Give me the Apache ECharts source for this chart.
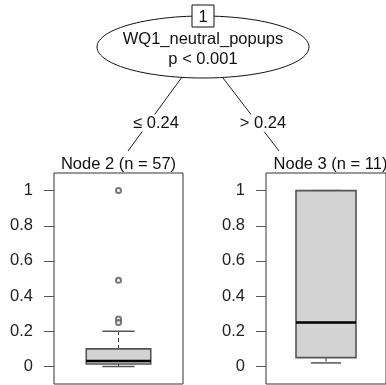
<!DOCTYPE html>
<html><head><meta charset="utf-8">
<script src="https://cdn.jsdelivr.net/npm/echarts@6/dist/echarts.min.js"></script>
<style>html,body{margin:0;padding:0;background:#fff}#c{width:386px;height:385px}</style>
</head><body><div id="c"></div>
<script>
// ---- data ----
const nodeTitles = ['Node 2 (n = 57)', 'Node 3 (n = 11)'];
const nodeCats = ['Node 2', 'Node 3'];
// [lower whisker, Q1, median, Q3, upper whisker]
const node2Box = [0, 0.014, 0.031, 0.1, 0.2];
const node3Box = [0.02, 0.05, 0.25, 1, 1];
const node2Outliers = [1.0, 0.49, 0.27, 0.25];
const node3Outliers = [];
const yTicks = [0, 0.2, 0.4, 0.6, 0.8, 1];
const rootId = '1';
const splitVar = 'WQ1_neutral_popups';
const pLabel = 'p < 0.001';
const edgeLabels = ['\u2264 0.24', '> 0.24'];

const FONT = 'Liberation Sans, Arial, sans-serif';
const FS = 16.5;

function renderBox(params, api) {
  const x = api.value(0);
  const bw = api.size([1, 0])[0] * 0.5;
  const pMin = api.coord([x, api.value(1)]);
  const pQ1 = api.coord([x, api.value(2)]);
  const pMed = api.coord([x, api.value(3)]);
  const pQ3 = api.coord([x, api.value(4)]);
  const pMax = api.coord([x, api.value(5)]);
  const cx = pMin[0];
  const gray = '#555';
  return {
    type: 'group',
    children: [
      {type: 'line', shape: {x1: cx, y1: pQ3[1], x2: cx, y2: pMax[1]}, style: {stroke: '#333', lineWidth: 1, lineDash: [4, 3]}},
      {type: 'line', shape: {x1: cx, y1: pQ1[1], x2: cx, y2: pMin[1]}, style: {stroke: '#333', lineWidth: 1, lineDash: [4, 3]}},
      {type: 'line', shape: {x1: cx - bw / 4, y1: pMax[1], x2: cx + bw / 4, y2: pMax[1]}, style: {stroke: gray, lineWidth: 1.5}},
      {type: 'line', shape: {x1: cx - bw / 4, y1: pMin[1], x2: cx + bw / 4, y2: pMin[1]}, style: {stroke: gray, lineWidth: 1.5}},
      {type: 'rect', shape: {x: cx - bw / 2, y: pQ3[1], width: bw, height: pQ1[1] - pQ3[1]}, style: {fill: '#d3d3d3', stroke: gray, lineWidth: 1.6}},
      {type: 'line', shape: {x1: cx - bw / 2, y1: pMed[1], x2: cx + bw / 2, y2: pMed[1]}, style: {stroke: '#000', lineWidth: 2.5}}
    ]
  };
}

function yAxisFor(gi) {
  return {
    gridIndex: gi, type: 'value', min: -0.1, max: 1.1,
    splitLine: {show: false},
    axisLine: {show: false},
    axisTick: {show: true, length: 10, customValues: yTicks, lineStyle: {color: '#555', width: 1}},
    axisLabel: {customValues: yTicks, margin: 21, fontFamily: FONT, fontSize: FS, color: '#222'}
  };
}
function xAxisFor(gi, cat) {
  return {gridIndex: gi, type: 'category', data: [cat], show: false};
}

const grids = [
  {left: 54, top: 173, width: 129, height: 211, show: true, borderColor: '#333', borderWidth: 1, backgroundColor: 'transparent'},
  {left: 266, top: 173, width: 129, height: 211, show: true, borderColor: '#333', borderWidth: 1, backgroundColor: 'transparent'}
];

// tree geometry (layout only)
const ecx = 203, ecy = 47, erx = 106, ery = 31;
const ellipsePts = [];
for (let i = 0; i < 120; i++) {
  const t = i / 120 * Math.PI * 2;
  ellipsePts.push([ecx + erx * Math.cos(t), ecy + ery * Math.sin(t)]);
}
function textEl(x, y, s, bg) {
  return {type: 'text', x: x, y: y, z: 10,
    style: {text: s, fontFamily: FONT, fontSize: FS, fill: '#111', align: 'center', verticalAlign: 'middle',
      backgroundColor: bg ? '#fff' : null, padding: bg ? [0, 2] : 0}};
}

const graphic = [
  {type: 'line', shape: {x1: 182, y1: 77, x2: 128, y2: 151}, style: {stroke: '#222', lineWidth: 1}},
  {type: 'line', shape: {x1: 223, y1: 78, x2: 279, y2: 151}, style: {stroke: '#222', lineWidth: 1}},
  {type: 'polygon', shape: {points: ellipsePts}, style: {fill: '#fff', stroke: '#111', lineWidth: 1}},
  {type: 'rect', shape: {x: 192, y: 5, width: 22, height: 22}, style: {fill: '#fff', stroke: '#111', lineWidth: 1}, z: 5},
  textEl(203, 17, rootId, false),
  textEl(ecx, 39, splitVar, false),
  textEl(ecx, 59, pLabel, false),
  textEl(156, 123, edgeLabels[0], true),
  textEl(263, 123, edgeLabels[1], true),
  textEl(118.5, 164, nodeTitles[0], false),
  textEl(330.5, 164, nodeTitles[1], false)
];

const chart = echarts.init(document.getElementById('c'), null, {renderer: 'canvas'});
chart.setOption({
  animation: false,
  grid: grids,
  xAxis: [xAxisFor(0, nodeCats[0]), xAxisFor(1, nodeCats[1])],
  yAxis: [yAxisFor(0), yAxisFor(1)],
  graphic: graphic,
  series: [
    {type: 'custom', xAxisIndex: 0, yAxisIndex: 0, renderItem: renderBox,
      data: [[nodeCats[0]].concat(node2Box)], encode: {x: 0, y: [1, 2, 3, 4, 5]}},
    {type: 'custom', xAxisIndex: 1, yAxisIndex: 1, renderItem: renderBox,
      data: [[nodeCats[1]].concat(node3Box)], encode: {x: 0, y: [1, 2, 3, 4, 5]}},
    {type: 'scatter', xAxisIndex: 0, yAxisIndex: 0, symbol: 'emptyCircle', symbolSize: 5,
      itemStyle: {color: '#555', borderWidth: 0.8},
      data: node2Outliers.map(v => [nodeCats[0], v])},
    {type: 'scatter', xAxisIndex: 1, yAxisIndex: 1, symbol: 'emptyCircle', symbolSize: 5,
      itemStyle: {color: '#555', borderWidth: 0.8},
      data: node3Outliers.map(v => [nodeCats[1], v])}
  ]
});
</script></body></html>
